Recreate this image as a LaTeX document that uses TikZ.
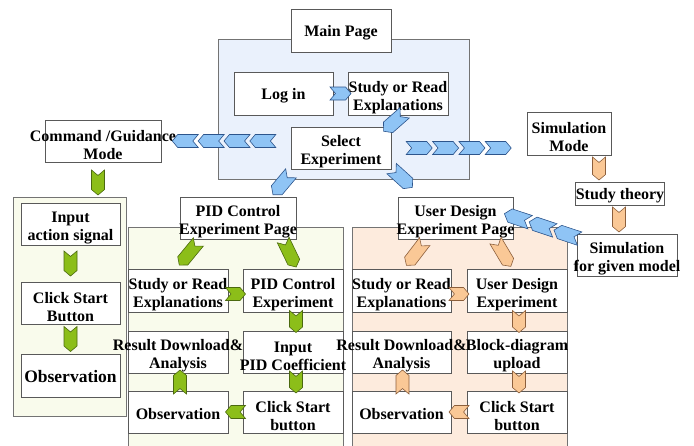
\documentclass[tikz,border=0pt]{standalone}
\usepackage{fontspec}
\setmainfont{Liberation Serif}
\usepackage{xcolor}
\usetikzlibrary{shapes.symbols,calc}

\definecolor{mainbg}{RGB}{234,241,252}
\definecolor{greenbg}{RGB}{249,251,236}
\definecolor{orangebg}{RGB}{253,235,221}
\definecolor{bluefill}{RGB}{143,196,245}
\definecolor{blueline}{RGB}{45,85,140}
\definecolor{greenfill}{RGB}{140,190,25}
\definecolor{greenline}{RGB}{75,105,15}
\definecolor{orangefill}{RGB}{250,200,150}
\definecolor{orangeline}{RGB}{140,95,60}

% centre a line that is wider than its box
\newcommand{\ov}[1]{\makebox[0pt]{#1}}
% push the first line down a little
\newcommand{\tp}{\rule{0pt}{19pt}}
\newcommand{\tq}{\rule{0pt}{15pt}}

\begin{document}
\begin{tikzpicture}[x=1pt, y=-1pt,
    box/.style={rectangle, draw=black!65, fill=white, line width=0.7pt, inner sep=0pt, align=center, minimum width=100, minimum height=42,
        font=\fontsize{16}{18}\selectfont\bfseries},
    panel/.style={draw=black!55, line width=0.6pt},
    chev/.style={signal, signal to=east, signal from=west, signal pointer angle=100, sloped, allow upside down, inner sep=0pt, minimum width=24, minimum height=13, line width=0.6pt},
    bluechev/.style={chev, fill=bluefill, draw=blueline},
    greenchev/.style={chev, fill=greenfill, draw=greenline},
    orangechev/.style={chev, fill=orangefill, draw=orangeline}
]
    \useasboundingbox (0,0) rectangle (694,445);

    % Panels
    \draw[panel, fill=mainbg] (218,39) rectangle (469,179);
    \draw[panel, fill=greenbg] (13,197) rectangle (126,416);
    \draw[panel, fill=greenbg] (128,227) rectangle (343,450);
    \draw[panel, fill=orangebg] (352,227) rectangle (567,450);

    % Main page
    \node[box, minimum height=43] (mainpage) at (341,30.5) {\tq Main Page};
    \node[box, minimum width=99, minimum height=43] (login) at (283.5,93.5) {\tq Log in};
    \node[box, minimum height=43] (study) at (398,93.5) {\tp Study or Read\\Explanations};
    \node[box] (select) at (341,148) {\tp Select\\Experiment};

    % Modes
    \node[box, minimum width=116] (guide) at (103,141) {\tp\ov{Command /Guidance}\\Mode};
    \node[box, minimum width=84, minimum height=43] (simmode) at (569,133.5) {\tp Simulation\\Mode};
    \node[box, minimum width=88, minimum height=23] (theory) at (620,193.5) {\tq Study theory};
    \node[box] (simmodel) at (627,255) {\tp Simulation\\\ov{for given model}};

    % Command / guidance steps
    \node[box, minimum width=99] (input) at (70.5,224) {\tp Input\\action signal};
    \node[box, minimum width=99] (clickA) at (70.5,303) {\tp Click Start\\Button};
    \node[box, minimum width=99, minimum height=43, font=\fontsize{17.5}{20}\selectfont\bfseries] (obsA) at (70.5,375.5) {\tq Observation};

    % PID control experiment
    \node[box, minimum width=116] (pidpage) at (238,218) {\tp PID Control\\\ov{Experiment Page}};
    \node[box, minimum height=43] (pidstudy) at (178,290.5) {\tp Study or Read\\Explanations};
    \node[box, minimum height=43] (pidexp) at (293,290.5) {\tp PID Control\\Experiment};
    \node[box] (pidinput) at (293,352) {\tp Input\\\ov{PID Coefficient}};
    \node[box] (pidresult) at (178,352) {\tp\ov{Result Download\&}\\Analysis};
    \node[box] (pidobs) at (178,412) {\tq Observation};
    \node[box] (pidclick) at (293,412) {\tp Click Start\\button};

    % User design experiment
    \node[box, minimum width=115] (udpage) at (455.5,218) {\tp User Design\\\ov{Experiment Page}};
    \node[box, minimum width=99, minimum height=43] (udstudy) at (401.5,290.5) {\tp Study or Read\\Explanations};
    \node[box, minimum height=43] (udexp) at (517,290.5) {\tp User Design\\Experiment};
    \node[box] (udblock) at (517,352) {\tp\ov{Block-diagram}\\upload};
    \node[box, minimum width=99] (udresult) at (401.5,352) {\tp\ov{Result Download\&}\\Analysis};
    \node[box, minimum width=99] (udobs) at (401.5,412) {\tq Observation};
    \node[box] (udclick) at (517,412) {\tp Click Start\\button};

    % Blue arrows
    \path (login) -- node[bluechev, minimum width=21] {} (study);
    \path ($(study.south)+(6,-2)$) -- node[bluechev, minimum width=28, minimum height=14] {} ($(select.north east)+(-7,4)$);
    \path ($(select.south west)+(2,2)$) -- node[bluechev, minimum width=28, minimum height=14] {} ($(pidpage.north east)+(-25,0)$);
    \path ($(select.south east)+(0,-1)$) -- node[bluechev, minimum width=28, minimum height=14] {} ($(udpage.north west)+(15,-9)$);
    \path (select.west |- guide.east) -- node[pos=.215, bluechev, minimum width=26] {} node[pos=.415, bluechev, minimum width=26] {}
        node[pos=.615, bluechev, minimum width=26] {} node[pos=.815, bluechev, minimum width=26] {} (guide.east);
    \path (select.east) -- node[pos=.206, bluechev, minimum width=26] {} node[pos=.401, bluechev, minimum width=26] {}
        node[pos=.596, bluechev, minimum width=26] {} node[pos=.79, bluechev, minimum width=26] {} (simmode.west |- select.east);
    \path ($(simmodel.north west)+(3,5)$) -- node[pos=.173, bluechev, minimum width=27, minimum height=14] {} node[pos=.507, bluechev, minimum width=27, minimum height=14] {}
        node[pos=.84, bluechev, minimum width=27, minimum height=14] {} ($(udpage.east)+(-8,-4)$);

    % Green arrows
    \path ($(guide.south)+(-5,0)$) -- node[greenchev, minimum width=25] {} ($(input.north)+(27.5,0)$);
    \path (input) -- node[greenchev, minimum width=25] {} (clickA);
    \path (clickA) -- node[greenchev, minimum width=25] {} (obsA);
    \path ($(pidpage.south west)+(20,1)$) -- node[greenchev, minimum width=30] {} ($(pidstudy.north)+(0,-2)$);
    \path ($(pidpage.south east)+(-13,1)$) -- node[greenchev, minimum width=30] {} ($(pidexp.north)+(3,-2)$);
    \path ($(pidstudy.east)+(0,3.5)$) -- node[greenchev, minimum width=20] {} ($(pidexp.west)+(0,3.5)$);
    \path ($(pidexp.south)+(3,0)$) -- node[greenchev, minimum width=22] {} ($(pidinput.north)+(3,0)$);
    \path ($(pidinput.south)+(3,0)$) -- node[greenchev, minimum width=22] {} ($(pidclick.north)+(3,0)$);
    \path (pidclick) -- node[greenchev, minimum width=20] {} (pidobs);
    \path ($(pidobs.north)+(2,0)$) -- node[greenchev, minimum width=24] {} ($(pidresult.south)+(2,0)$);

    % Orange arrows
    \path ($(simmode.south)+(30,0)$) -- node[orangechev, minimum width=23] {} ($(theory.north)+(-21,0)$);
    \path ($(theory.south)+(-1,0)$) -- node[orangechev, minimum width=25] {} ($(simmodel.north)+(-8,0)$);
    \path ($(udpage.south west)+(28,1)$) -- node[orangechev, minimum width=30] {} ($(udstudy.north)+(4,-2)$);
    \path ($(udpage.south east)+(-18,1)$) -- node[orangechev, minimum width=30] {} ($(udexp.north)+(-6,-2)$);
    \path ($(udstudy.east)+(0,3.5)$) -- node[orangechev, minimum width=20] {} ($(udexp.west)+(0,3.5)$);
    \path ($(udexp.south)+(2,0)$) -- node[orangechev, minimum width=22] {} ($(udblock.north)+(2,0)$);
    \path ($(udblock.south)+(2,0)$) -- node[orangechev, minimum width=22] {} ($(udclick.north)+(2,0)$);
    \path (udclick) -- node[orangechev, minimum width=20] {} (udobs);
    \path ($(udobs.north)+(1,0)$) -- node[orangechev, minimum width=24] {} ($(udresult.south)+(1,0)$);
\end{tikzpicture}
\end{document}
